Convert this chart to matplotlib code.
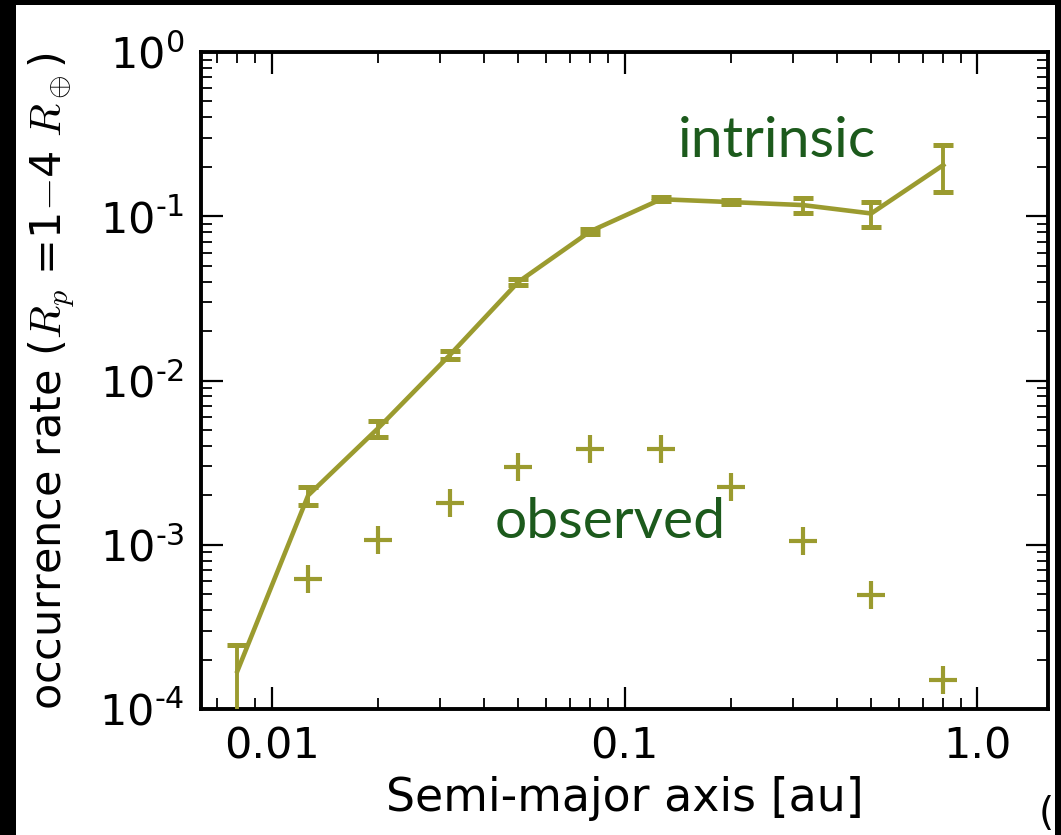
import numpy as np
import matplotlib
matplotlib.use("Agg")
import matplotlib.pyplot as plt
from matplotlib.patches import Rectangle
from matplotlib.ticker import FuncFormatter

plt.rcParams['mathtext.fontset'] = 'cm'
plt.rcParams['axes.unicode_minus'] = False
plt.rcParams['font.family'] = 'DejaVu Sans'

# semi-major axis bins [au]
a_bins = [0.008, 0.0127, 0.020, 0.032, 0.050, 0.080, 0.127, 0.20, 0.32, 0.50, 0.80]

# intrinsic occurrence rate and its error
f_intr = [1.7e-4, 2.0e-3, 5.1e-3, 0.0143, 0.0398, 0.081, 0.127, 0.122, 0.117, 0.104, 0.205]
f_intr_err = [0.75e-4, 0.25e-3, 0.55e-3, 0.0008, 0.0016, 0.003, 0.004, 0.004, 0.012, 0.018, 0.065]

# observed occurrence rate (first bin falls below the plot)
a_obs = [0.0127, 0.020, 0.032, 0.050, 0.080, 0.127, 0.20, 0.32, 0.50, 0.80]
f_obs = [6.2e-4, 1.07e-3, 1.8e-3, 2.98e-3, 3.85e-3, 3.85e-3, 2.25e-3, 1.05e-3, 4.95e-4, 1.5e-4]

col = '#9b9b2f'
txtcol = '#1c5a1c'


def pow10_label(v, pos):
    # short hyphen in the exponent, like the old matplotlib look
    e = int(round(np.log10(v)))
    s = str(e).replace('-', '\u2010')
    return r'$\mathdefault{10^{%s}}$' % s


fig = plt.figure(figsize=(10.61, 8.35), dpi=100, facecolor='white')
ax = fig.add_axes([0.1894, 0.1509, 0.7984, 0.7868])

ax.errorbar(a_bins, f_intr, yerr=f_intr_err, color=col, lw=3.3, elinewidth=2.8,
            capsize=7, capthick=3.6, zorder=3)
ax.plot(a_obs, f_obs, '+', color=col, ms=20, mew=3)

ax.set_xscale('log')
ax.set_yscale('log')
ax.set_xlim(10**-2.2, 10**0.2)
ax.set_ylim(1e-4, 1)
ax.set_xticks([0.01, 0.1, 1.0])
ax.set_xticklabels(['0.01', '0.1', '1.0'])
ax.yaxis.set_major_formatter(FuncFormatter(pow10_label))

ax.tick_params(which='both', direction='in', top=True, right=True)
ax.tick_params(which='major', length=16, width=1.6, labelsize=31, pad=12)
ax.tick_params(which='minor', length=8, width=1.3)
for s in ax.spines.values():
    s.set_linewidth(2.8)

ax.set_xlabel('Semi-major axis [au]', fontsize=33, labelpad=6)
ax.set_ylabel(r'occurrence rate ($R_p$ =1$-$4 $R_\oplus$)', fontsize=31, labelpad=16)

ax.text(0.563, 0.840, 'intrinsic', transform=ax.transAxes, fontsize=41,
        family='Lato', color=txtcol, ha='left', va='baseline')
ax.text(0.347, 0.260, 'observed', transform=ax.transAxes, fontsize=41,
        family='Lato', color=txtcol, ha='left', va='baseline')

# stray bracket from the neighbouring panel
fig.text(1054 / 1061, 0.002, '(', fontsize=28, color='black', ha='right', va='bottom')

# black frame around the panel
for x0, y0, w, h in [(0, 0, 16 / 1061, 1), (1055 / 1061, 0, 6 / 1061, 1),
                     (0, 830 / 835, 1, 5 / 835)]:
    fig.patches.append(Rectangle((x0, y0), w, h, transform=fig.transFigure,
                                 facecolor='black', edgecolor='none', zorder=10))

fig.savefig('out.png', dpi=100, facecolor=fig.get_facecolor())
